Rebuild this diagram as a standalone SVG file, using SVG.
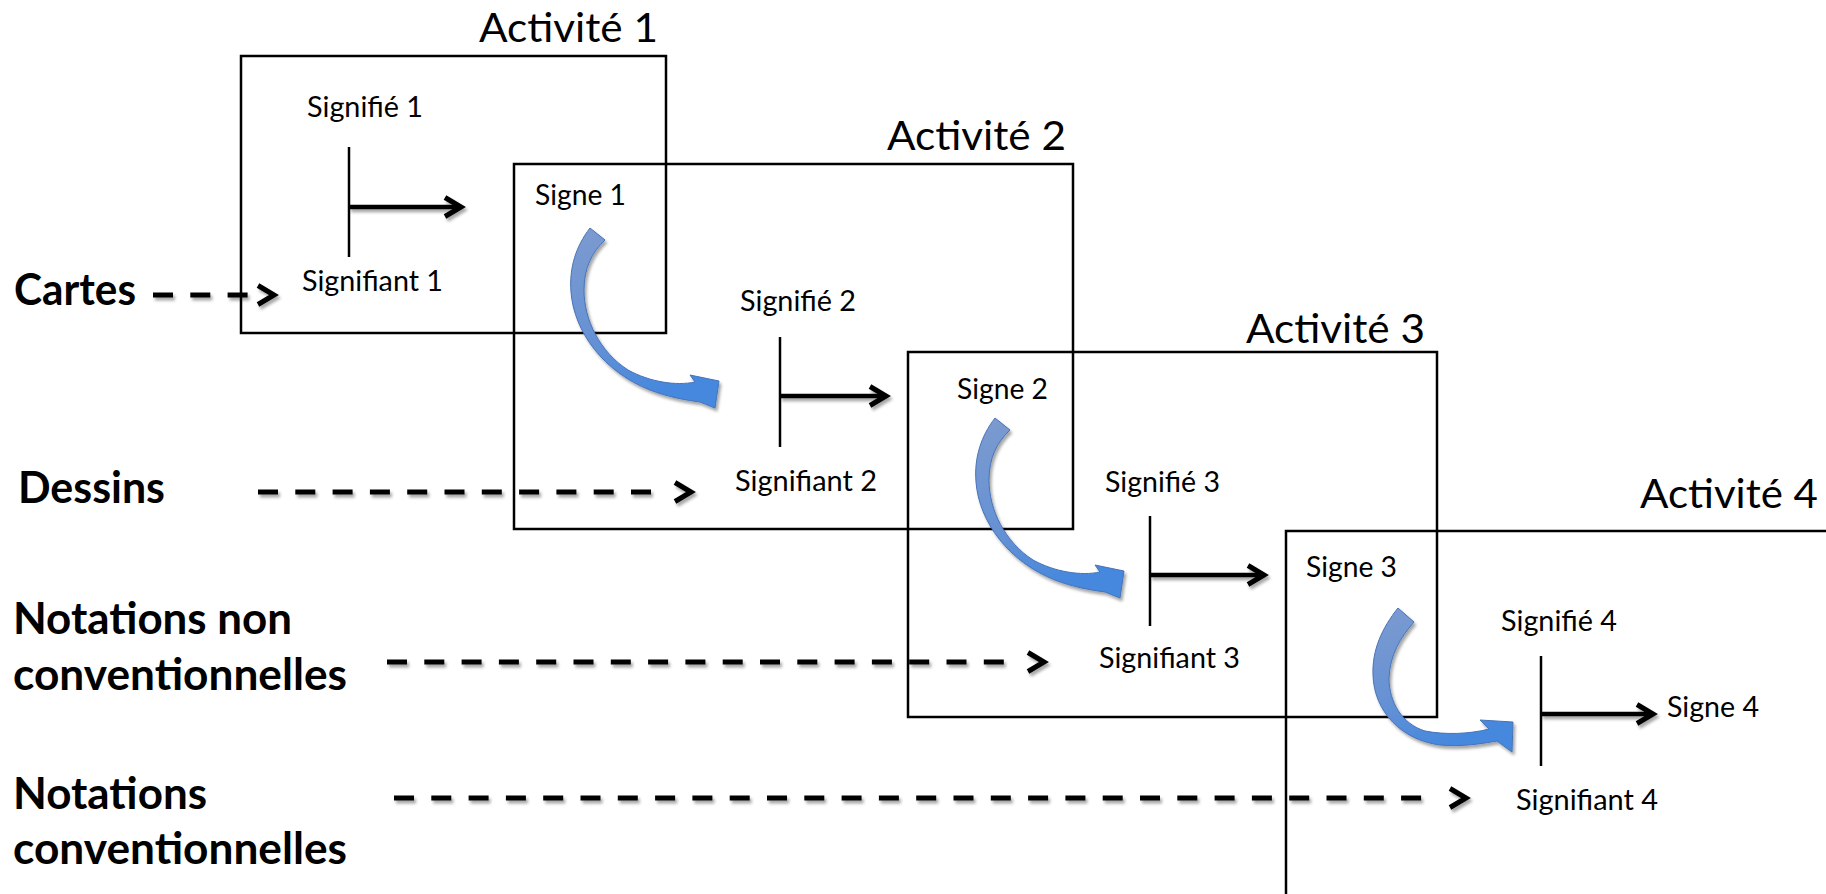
<svg xmlns="http://www.w3.org/2000/svg" width="1826" height="894" viewBox="0 0 1826 894">
<style>
.box{fill:none;stroke:#000;stroke-width:2.5}
.title{font-family:Lato,"Open Sans",sans-serif;font-size:41px;fill:#000}
.lbl{font-family:Lato,"Open Sans",sans-serif;font-size:28px;fill:#000}
.side{font-family:Lato,"Open Sans",sans-serif;font-size:43px;font-weight:bold;fill:#000}
.tick{stroke:#000;stroke-width:2.5}
.arr{stroke:#000;stroke-width:4.5;fill:none}
.dash{stroke:#000;stroke-width:5;stroke-dasharray:20 17.3;fill:none}
.curl{fill:url(#blue);stroke:#4673b8;stroke-width:1}
</style>
<defs>
<filter id="sh" x="-20%" y="-40%" width="150%" height="200%">
<feDropShadow dx="2" dy="3" stdDeviation="1.8" flood-color="#000" flood-opacity="0.35"/>
</filter>
<linearGradient id="blue" x1="0" y1="0" x2="0.4" y2="1">
<stop offset="0" stop-color="#7d9bcf"/>
<stop offset="0.6" stop-color="#6591d4"/>
<stop offset="1" stop-color="#4588de"/>
</linearGradient>
<path id="chev" d="M -20,-9.5 L -4,0 L -20,9.5" fill="none" stroke="#000" stroke-width="5" stroke-linejoin="miter"/>
<path id="curlA" d="M 590,228 C 576,246 569,268 571,292 C 574,332 604,372 650,390 C 668,397 685,400 700,402 L 715,408 L 719,381 L 690,375 L 695,382 C 676,386 650,382 628,370 C 600,352 584,320 584,290 C 584,268 592,252 605,240 Z"/>
</defs>
<rect width="1826" height="894" fill="#fff"/>

<g id="activite1">
<rect class="box" x="241" y="56" width="425" height="277"/>
<text class="title" x="479" y="42" textLength="179" lengthAdjust="spacingAndGlyphs">Activité 1</text>
</g>
<g id="activite2">
<rect class="box" x="514" y="164" width="559" height="365"/>
<text class="title" x="887" y="150" textLength="179" lengthAdjust="spacingAndGlyphs">Activité 2</text>
</g>
<g id="activite3">
<rect class="box" x="908" y="352" width="529" height="365"/>
<text class="title" x="1246" y="343" textLength="179" lengthAdjust="spacingAndGlyphs">Activité 3</text>
</g>
<g id="activite4">
<rect class="box" x="1286" y="531" width="600" height="420"/>
<text class="title" x="1640" y="508" textLength="178" lengthAdjust="spacingAndGlyphs">Activité 4</text>
</g>

<g id="signe-1">
<text class="lbl" x="307" y="117" textLength="116" lengthAdjust="spacingAndGlyphs">Signifié 1</text>
<line class="tick" x1="349" y1="147" x2="349" y2="257"/>
<text class="lbl" x="302" y="291" textLength="141" lengthAdjust="spacingAndGlyphs">Signifiant 1</text>
</g>
<g id="signe-2">
<text class="lbl" x="535" y="205" textLength="91" lengthAdjust="spacingAndGlyphs">Signe 1</text>
<text class="lbl" x="740" y="311" textLength="116" lengthAdjust="spacingAndGlyphs">Signifié 2</text>
<line class="tick" x1="780" y1="337" x2="780" y2="447"/>
<text class="lbl" x="735" y="491" textLength="142" lengthAdjust="spacingAndGlyphs">Signifiant 2</text>
</g>
<g id="signe-3">
<text class="lbl" x="957" y="399" textLength="91" lengthAdjust="spacingAndGlyphs">Signe 2</text>
<text class="lbl" x="1105" y="492" textLength="115" lengthAdjust="spacingAndGlyphs">Signifié 3</text>
<line class="tick" x1="1150" y1="516" x2="1150" y2="626"/>
<text class="lbl" x="1099" y="668" textLength="141" lengthAdjust="spacingAndGlyphs">Signifiant 3</text>
</g>
<g id="signe-4">
<text class="lbl" x="1306" y="577" textLength="91" lengthAdjust="spacingAndGlyphs">Signe 3</text>
<text class="lbl" x="1501" y="631" textLength="116" lengthAdjust="spacingAndGlyphs">Signifié 4</text>
<line class="tick" x1="1541" y1="656" x2="1541" y2="766"/>
<text class="lbl" x="1516" y="810" textLength="142" lengthAdjust="spacingAndGlyphs">Signifiant 4</text>
</g>
<g id="signe-5">
<text class="lbl" x="1667" y="717" textLength="92" lengthAdjust="spacingAndGlyphs">Signe 4</text>
</g>

<g id="cartes"><text class="side" x="14" y="305" textLength="122" lengthAdjust="spacingAndGlyphs">Cartes</text></g>
<g id="dessins"><text class="side" x="18" y="503" textLength="147" lengthAdjust="spacingAndGlyphs">Dessins</text></g>
<g id="notations-non-conventionnelles">
<text class="side" x="13" y="634" textLength="279" lengthAdjust="spacingAndGlyphs">Notations non</text>
<text class="side" x="13" y="690" textLength="334" lengthAdjust="spacingAndGlyphs">conventionnelles</text>
</g>
<g id="notations-conventionnelles">
<text class="side" x="13" y="809" textLength="194" lengthAdjust="spacingAndGlyphs">Notations</text>
<text class="side" x="13" y="864" textLength="334" lengthAdjust="spacingAndGlyphs">conventionnelles</text>
</g>

<g id="connectors">
<g filter="url(#sh)">
<line class="arr" x1="349" y1="207" x2="460" y2="207"/><use href="#chev" transform="translate(465,207)"/>
<line class="arr" x1="780" y1="396" x2="885" y2="396"/><use href="#chev" transform="translate(890,396)"/>
<line class="arr" x1="1150" y1="575" x2="1263" y2="575"/><use href="#chev" transform="translate(1268,575)"/>
<line class="arr" x1="1541" y1="714" x2="1652" y2="714"/><use href="#chev" transform="translate(1657,714)"/>
</g>
<g filter="url(#sh)">
<line class="dash" x1="153" y1="295" x2="250" y2="295"/><use href="#chev" transform="translate(278,295)"/>
<line class="dash" x1="258" y1="492" x2="652" y2="492"/><use href="#chev" transform="translate(695,492)"/>
<line class="dash" x1="387" y1="662" x2="1005" y2="662"/><use href="#chev" transform="translate(1048,662)"/>
<line class="dash" x1="394" y1="798" x2="1422" y2="798"/><use href="#chev" transform="translate(1470,798)"/>
</g>
<g filter="url(#sh)">
<use href="#curlA" class="curl"/>
<use href="#curlA" class="curl" transform="translate(405,190)"/>
<path class="curl" d="M 1398,608 C 1382,628 1372,650 1373,675 C 1374,712 1402,740 1440,745 C 1460,747 1480,744 1497,741 L 1512,752 L 1513,722 L 1480,720 L 1489,729 C 1470,734 1445,735 1425,731 C 1402,724 1389,702 1389,678 C 1390,655 1400,638 1414,622 Z"/>
</g>
</g>
</svg>
